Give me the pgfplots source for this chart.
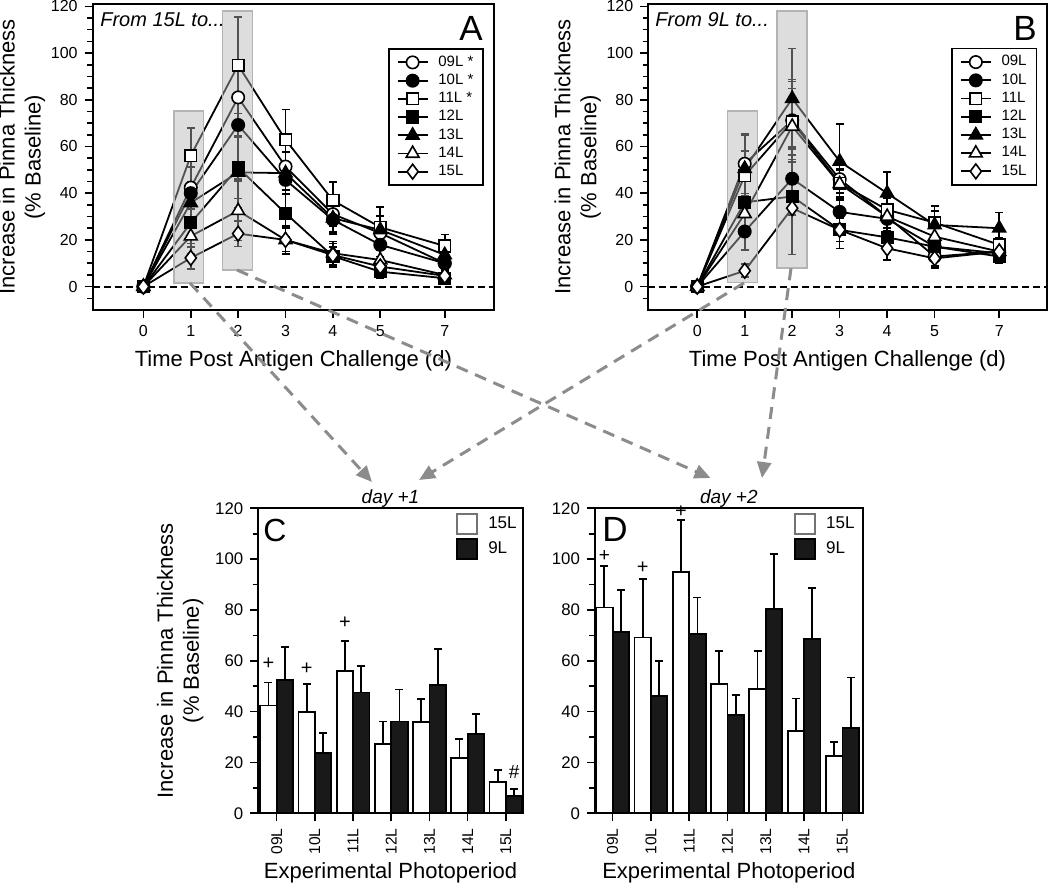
\documentclass[border=0pt]{standalone}
\usepackage{fontspec}
\setmainfont{Liberation Sans}
\usepackage{pgfplots}
\usepackage{pgfplotstable}
\pgfplotsset{compat=1.18}
\usetikzlibrary{arrows.meta}
\definecolor{arrowgray}{HTML}{8C8C8C}
\definecolor{boxgray}{HTML}{B4B4B4}
\tikzset{
  shade/.style={fill=boxgray, fill opacity=0.45, draw=boxgray, line width=0.8pt},
  zeroline/.style={black, line width=1pt, dash pattern=on 3.5pt off 2pt},
}
% bar data: x, mean, upper error
\pgfplotstableread[row sep=\\]{x y e\\ 0 42.4 9.1\\ 1 40.0 11.0\\ 2 56.1 11.8\\ 3 27.3 8.8\\ 4 35.9 9.0\\ 5 21.6 7.5\\ 6 12.3 4.7\\}\Cw
\pgfplotstableread[row sep=\\]{x y e\\ 0 52.6 12.7\\ 1 23.6 7.9\\ 2 47.5 10.5\\ 3 36.1 12.6\\ 4 50.5 14.2\\ 5 31.2 7.8\\ 6 6.8 2.8\\}\Cb
\pgfplotstableread[row sep=\\]{x y e\\ 0 81.0 16.3\\ 1 69.2 23.1\\ 2 94.8 20.6\\ 3 50.9 13.1\\ 4 48.9 15.1\\ 5 32.5 12.7\\ 6 22.7 5.5\\}\Dw
\pgfplotstableread[row sep=\\]{x y e\\ 0 71.2 16.7\\ 1 46.2 13.6\\ 2 70.6 14.3\\ 3 38.6 8.0\\ 4 80.5 21.5\\ 5 68.6 20.1\\ 6 33.6 19.8\\}\Db
\pgfplotsset{
  base/.style={scale only axis, clip=false, axis line style={line width=1pt}, tick align=outside, tick pos=left,
    major tick length=4pt, minor tick length=2.8pt, every tick/.style={black,line width=0.8pt},
    /pgf/number format/assume math mode=true,
    label style={font=\fontsize{11}{13}\selectfont},
    ylabel style={align=center}},
  lineaxis/.style={base, width=200pt, height=153pt, xmin=-1.07, xmax=7.40, ymin=-10, ymax=121,
    xtick={0,1,2,3,4,5,6.36}, xticklabels={0,1,2,3,4,5,7}, ytick={0,20,...,120},
    minor ytick={-5,0,...,120},
    tick label style={font=\fontsize{8}{9}\selectfont},
    xlabel={Time Post Antigen Challenge (d)},
    ylabel={Increase in Pinna Thickness\\(\% Baseline)},
    ylabel style={yshift=-4pt},
    legend style={anchor=north east, draw=black, line width=0.8pt, font=\fontsize{7.5}{8.5}\selectfont,
      row sep=0.6pt, inner xsep=4pt, inner ysep=2.5pt, nodes={inner sep=0.9pt}},
    legend cell align=left,
    legend image code/.code={\draw[mark repeat=2,mark phase=2,##1] plot coordinates {(0pt,0pt) (7.5pt,0pt) (15pt,0pt)}; \path (19pt,0pt);}},
  baraxis/.style={base, height=152.5pt, ymin=0, ymax=120, ytick={0,20,...,120}, minor y tick num=1,
    xtick={0,...,6}, xticklabels={09L,10L,11L,12L,13L,14L,15L},
    tick label style={font=\fontsize{8.4}{10}\selectfont},
    xticklabel style={rotate=90, anchor=east, font=\fontsize{7.8}{9}\selectfont},
    xlabel={Experimental Photoperiod},
    xlabel style={yshift=3pt},
    legend style={anchor=north west, draw=none, fill=none, font=\fontsize{8.5}{10}\selectfont, row sep=1.2pt, inner sep=0pt},
    legend cell align=left},
  eb/.style={error bars/y dir=both, error bars/y explicit,
    error bars/error bar style={line width=0.8pt, black, solid},
    error bars/error mark options={rotate=90, mark size=2pt, line width=0.8pt, black, solid}},
  s09/.style={black, line width=0.9pt, mark=*, mark size=3.1pt, mark options={fill=white, draw=black, line width=0.8pt, solid}, eb},
  s10/.style={black, line width=0.9pt, mark=*, mark size=3.1pt, mark options={fill=black, draw=black, line width=0.8pt, solid}, eb},
  s11/.style={black, line width=0.9pt, mark=square*, mark size=2.9pt, mark options={fill=white, draw=black, line width=0.8pt, solid}, eb},
  s12/.style={black, line width=0.9pt, mark=square*, mark size=2.9pt, mark options={fill=black, draw=black, line width=0.8pt, solid}, eb},
  s13/.style={black, line width=0.9pt, mark=triangle*, mark size=3.7pt, mark options={fill=black, draw=black, line width=0.8pt, solid}, eb},
  s14/.style={black, line width=0.9pt, mark=triangle*, mark size=3.7pt, mark options={fill=white, draw=black, line width=0.8pt, solid}, eb},
  s15/.style={black, line width=0.9pt, mark=diamond*, mark size=3.7pt, mark options={fill=white, draw=black, line width=0.8pt, solid}, eb},
  bw/.style={ybar, bar width=0.43, bar shift=-0.215, fill=white, draw=black, line width=0.9pt,
    legend image code/.code={\draw[fill=white, draw=black!55, line width=0.9pt] (0pt,-5pt) rectangle (10pt,5pt); \path (13pt,0pt);}},
  bb/.style={ybar, bar width=0.43, bar shift=0.215, fill=black!90, draw=black, line width=0.9pt,
    legend image code/.code={\draw[fill=black!90, draw=black, line width=0.9pt] (0pt,-5pt) rectangle (10pt,5pt); \path (13pt,0pt);}},
  barerr/.style={draw=none, mark=none, forget plot,
    error bars/y dir=plus, error bars/y explicit,
    error bars/error bar style={draw=black, line width=0.9pt, solid},
    error bars/error mark options={draw=black, rotate=90, mark size=2pt, line width=0.9pt, solid}},
}
\begin{document}
\begin{tikzpicture}
\useasboundingbox (0,0) rectangle (525pt,442pt);
% ---------------- Panel A ----------------
\begin{axis}[lineaxis, at={(46.35pt,287pt)}, anchor=south west, width=200.65pt,
  legend style={at={(0.975,0.856)}}]
\draw[zeroline] (axis cs:-1.07,0) -- (axis cs:7.40,0);
\addplot[s09] table[x index=0, y index=1, y error index=2, row sep=\\] {0 0 0\\ 1 42.4 9.1\\ 2 81.0 16.3\\ 3 51.4 6\\ 4 31.0 5\\ 5 22.9 5\\ 6.36 10.0 4\\};
\addlegendentry{09L *}
\addplot[s10] table[x index=0, y index=1, y error index=2, row sep=\\] {0 0 0\\ 1 40.0 11.0\\ 2 69.2 23.1\\ 3 45.7 6\\ 4 28.6 6\\ 5 17.9 5\\ 6.36 10.0 3\\};
\addlegendentry{10L *}
\addplot[s11] table[x index=0, y index=1, y error index=2, row sep=\\] {0 0 0\\ 1 56.1 11.8\\ 2 94.8 20.6\\ 3 62.9 13\\ 4 36.9 8\\ 5 25.4 8.6\\ 6.36 17.4 5\\};
\addlegendentry{11L *}
\addplot[s12] table[x index=0, y index=1, y error index=2, row sep=\\] {0 0 0\\ 1 27.3 8.8\\ 2 50.9 13.1\\ 3 31.4 10\\ 4 13.0 4\\ 5 6.4 3\\ 6.36 3.6 2\\};
\addlegendentry{12L}
\addplot[s13] table[x index=0, y index=1, y error index=2, row sep=\\] {0 0 0\\ 1 35.9 9.0\\ 2 48.9 15.1\\ 3 48.6 9\\ 4 29.3 6\\ 5 24.3 6\\ 6.36 13.6 4\\};
\addlegendentry{13L}
\addplot[s14] table[x index=0, y index=1, y error index=2, row sep=\\] {0 0 0\\ 1 21.6 7.5\\ 2 32.5 12.7\\ 3 20.0 6\\ 4 14.3 5\\ 5 11.4 4\\ 6.36 5.0 2\\};
\addlegendentry{14L}
\addplot[s15] table[x index=0, y index=1, y error index=2, row sep=\\] {0 0 0\\ 1 12.3 4.7\\ 2 22.7 5.5\\ 3 20.0 5\\ 4 13.5 5\\ 5 8.6 3\\ 6.36 4.6 2\\};
\addlegendentry{15L}
\draw[shade] (axis cs:0.65,1.6) rectangle (axis cs:1.27,75.3);
\draw[shade] (axis cs:1.67,7.2) rectangle (axis cs:2.30,117.9);
\node[anchor=base west, font=\itshape\fontsize{10}{12}\selectfont, inner sep=0pt] at (rel axis cs:0.018,0.928) {From 15L to...};
\node[anchor=base east, font=\fontsize{17.5}{20}\selectfont, inner sep=0pt] at (rel axis cs:0.973,0.882) {A};
\end{axis}
% ---------------- Panel B ----------------
\begin{axis}[lineaxis, at={(324.15pt,287pt)}, anchor=south west, width=199.2pt, xmin=-1.03, xmax=7.36,
  legend style={at={(0.976,0.857)}}]
\draw[zeroline] (axis cs:-1.03,0) -- (axis cs:7.36,0);
\addplot[s09] table[x index=0, y index=1, y error index=2, row sep=\\] {0 0 0\\ 1 52.6 12.7\\ 2 71.2 16.7\\ 3 46.0 6\\ 4 30.0 5\\ 5 12.9 4\\ 6.36 15.0 3\\};
\addlegendentry{09L}
\addplot[s10] table[x index=0, y index=1, y error index=2, row sep=\\] {0 0 0\\ 1 23.6 7.9\\ 2 46.2 13.6\\ 3 32.0 5\\ 4 29.0 5\\ 5 17.1 4\\ 6.36 14.3 3\\};
\addlegendentry{10L}
\addplot[s11] table[x index=0, y index=1, y error index=2, row sep=\\] {0 0 0\\ 1 47.5 10.5\\ 2 70.6 14.3\\ 3 44.3 6\\ 4 32.9 5\\ 5 27.4 7\\ 6.36 17.9 3\\};
\addlegendentry{11L}
\addplot[s12] table[x index=0, y index=1, y error index=2, row sep=\\] {0 0 0\\ 1 36.1 12.6\\ 2 38.6 8.0\\ 3 24.3 5\\ 4 21.1 4\\ 5 17.1 4\\ 6.36 12.9 3\\};
\addlegendentry{12L}
\addplot[s13] table[x index=0, y index=1, y error index=2, row sep=\\] {0 0 0\\ 1 50.5 14.2\\ 2 80.5 21.5\\ 3 53.6 16\\ 4 40.0 9\\ 5 26.4 6\\ 6.36 25.0 6.7\\};
\addlegendentry{13L}
\addplot[s14] table[x index=0, y index=1, y error index=2, row sep=\\] {0 0 0\\ 1 31.2 7.8\\ 2 68.6 20.1\\ 3 44.0 6\\ 4 30.0 5\\ 5 21.4 5\\ 6.36 15.0 3\\};
\addlegendentry{14L}
\addplot[s15] table[x index=0, y index=1, y error index=2, row sep=\\] {0 0 0\\ 1 6.8 2.8\\ 2 33.6 19.8\\ 3 24.3 8\\ 4 16.4 5\\ 5 12.1 4\\ 6.36 15.0 3\\};
\addlegendentry{15L}
\draw[shade] (axis cs:0.64,1.7) rectangle (axis cs:1.27,75.3);
\draw[shade] (axis cs:1.68,7.9) rectangle (axis cs:2.31,118.0);
\node[anchor=base west, font=\itshape\fontsize{10}{12}\selectfont, inner sep=0pt] at (rel axis cs:0.017,0.928) {From 9L to...};
\node[anchor=base east, font=\fontsize{17.5}{20}\selectfont, inner sep=0pt] at (rel axis cs:0.976,0.882) {B};
\end{axis}
% ---------------- Panel C ----------------
\begin{axis}[baraxis, at={(129.15pt,35.35pt)}, anchor=south west, width=132.2pt, xmin=-0.48, xmax=6.44,
  ylabel={Increase in Pinna Thickness\\(\% Baseline)}, ylabel style={yshift=-1pt},
  legend style={at={(0.748,0.988)}}]
\addplot[bw] table[x=x, y=y] {\Cw};
\addlegendentry{15L}
\addplot[bb] table[x=x, y=y] {\Cb};
\addlegendentry{9L}
\addplot[barerr] table[x expr=\thisrow{x}-0.215, y=y, y error=e] {\Cw};
\addplot[barerr] table[x expr=\thisrow{x}+0.215, y=y, y error=e] {\Cb};
\node[font=\fontsize{10}{12}\selectfont] at (axis cs:-0.215,58.8) {+};
\node[font=\fontsize{10}{12}\selectfont] at (axis cs:0.785,57.0) {+};
\node[font=\fontsize{10}{12}\selectfont] at (axis cs:1.785,75.0) {+};
\node[font=\fontsize{9.5}{11}\selectfont] at (axis cs:6.215,16.3) {\#};
\node[anchor=base west, font=\fontsize{16}{19}\selectfont, inner sep=0pt] at (rel axis cs:0.018,0.89) {C};
\node[anchor=base, font=\itshape\fontsize{9.5}{11}\selectfont, inner sep=0pt] at ([yshift=2.5pt]rel axis cs:0.5,1) {day +1};
\end{axis}
% ---------------- Panel D ----------------
\begin{axis}[baraxis, at={(297.5pt,35.35pt)}, anchor=south west, width=133.85pt, xmin=-0.46, xmax=6.53,
  legend style={at={(0.743,0.988)}}]
\addplot[bw] table[x=x, y=y] {\Dw};
\addlegendentry{15L}
\addplot[bb] table[x=x, y=y] {\Db};
\addlegendentry{9L}
\addplot[barerr] table[x expr=\thisrow{x}-0.215, y=y, y error=e] {\Dw};
\addplot[barerr] table[x expr=\thisrow{x}+0.215, y=y, y error=e] {\Db};
\node[font=\fontsize{9.5}{11}\selectfont, inner sep=1pt] at (axis cs:-0.215,101.2) {+};
\node[font=\fontsize{10}{12}\selectfont] at (axis cs:0.785,96.8) {+};
\node[font=\fontsize{10}{12}\selectfont] at (axis cs:1.785,118.7) {+};
\node[anchor=base west, font=\fontsize{17.5}{20}\selectfont, inner sep=0pt] at (rel axis cs:0.026,0.89) {D};
\node[anchor=base, font=\itshape\fontsize{9.5}{11}\selectfont, inner sep=0pt] at ([yshift=2.5pt]rel axis cs:0.5,1) {day +2};
\end{axis}
% ---------------- connecting arrows ----------------
\begin{scope}[arrowgray, line width=1.5pt, dash pattern=on 6pt off 4pt, -{Triangle[length=8pt,width=7pt]}]
\draw (95pt,300.5pt) -- (186pt,201pt);
\draw (118.5pt,307pt) -- (355.25pt,203pt);
\draw (372pt,300.5pt) -- (209.5pt,202pt);
\draw (395.5pt,307.8pt) -- (381pt,203pt);
\end{scope}
\end{tikzpicture}
\end{document}
